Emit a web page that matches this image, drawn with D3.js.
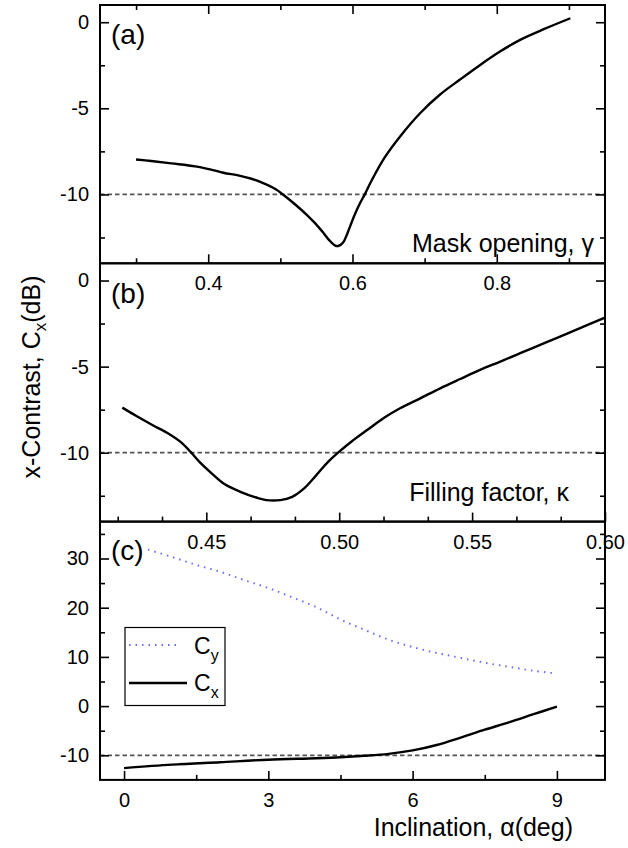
<!DOCTYPE html>
<html>
<head>
<meta charset="utf-8">
<script src="https://cdn.jsdelivr.net/npm/d3@7"></script>
<style>
  html, body { margin: 0; padding: 0; background: #fff; }
  svg text { font-family: "Liberation Sans", Arial, Helvetica, sans-serif; fill: #000; }
</style>
</head>
<body>
<svg id="chart" width="628" height="848"></svg>
<script>
// ---------- DATA ----------
// Panel (a): mask opening gamma vs x-contrast Cx (dB)
const gammaA = [0.300, 0.321, 0.349, 0.382, 0.405, 0.421, 0.443, 0.460, 0.477, 0.493, 0.504, 0.521, 0.538, 0.549, 0.560, 0.568, 0.576, 0.581, 0.587, 0.593, 0.602, 0.610, 0.617, 0.627, 0.644, 0.666, 0.694, 0.721, 0.749, 0.777, 0.805, 0.833, 0.866, 0.902];
const cxA    = [-7.97, -8.06, -8.20, -8.37, -8.57, -8.74, -8.91, -9.09, -9.36, -9.69, -10.02, -10.60, -11.24, -11.71, -12.25, -12.67, -12.97, -12.98, -12.79, -12.25, -11.28, -10.54, -10.0, -9.15, -7.89, -6.63, -5.27, -4.21, -3.33, -2.48, -1.69, -1.01, -0.39, 0.23];

// Panel (b): filling factor kappa vs Cx (dB)
const kappaB = [0.4184, 0.4237, 0.4297, 0.4357, 0.4402, 0.4440, 0.4477, 0.4523, 0.4568, 0.4628, 0.4688, 0.4726, 0.4778, 0.4823, 0.4868, 0.4914, 0.4959, 0.5000, 0.5049, 0.5109, 0.5169, 0.5229, 0.5305, 0.5380, 0.5455, 0.5530, 0.5606, 0.5681, 0.5756, 0.5831, 0.5906, 0.6000];
const cxB    = [-7.38, -7.87, -8.39, -8.88, -9.36, -9.94, -10.58, -11.24, -11.82, -12.27, -12.60, -12.75, -12.75, -12.56, -12.07, -11.30, -10.52, -9.94, -9.32, -8.64, -7.97, -7.42, -6.84, -6.26, -5.72, -5.19, -4.71, -4.22, -3.74, -3.26, -2.77, -2.15];

// Panel (c): inclination alpha (deg) vs Cx and Cy (dB)
const alphaCx = [0, 1, 2, 3, 4, 4.5, 5, 5.5, 6, 6.5, 7, 7.5, 8, 8.5, 9];
const cxC     = [-12.6, -11.9, -11.4, -10.9, -10.6, -10.4, -10.1, -9.7, -9.0, -7.9, -6.4, -4.8, -3.3, -1.7, -0.1];
const alphaCy = [0.5, 1, 1.5, 2, 2.5, 3, 3.5, 4, 4.5, 5, 5.5, 6, 6.5, 7, 7.5, 8, 8.5, 9];
const cyC     = [31.8, 30.3, 28.7, 27.3, 25.6, 24.0, 22.1, 20.1, 17.6, 15.5, 13.5, 12.0, 10.8, 9.8, 8.8, 8.0, 7.2, 6.6];

// Reference level (dB)
const refLevel = -10;

// Ticks
const ticksXA = [0.4, 0.6, 0.8];
const minorXA = [0.3, 0.5, 0.7, 0.9];
const ticksYAB = [-10, -5, 0];
const minorYAB = [-12.5, -7.5, -2.5];
const ticksXB = [0.45, 0.50, 0.55, 0.60];
const ticksXC = [0, 3, 6, 9];
const minorXC = [1.5, 4.5, 7.5];
const ticksYC = [-10, 0, 10, 20, 30];
const minorYC = [-5, 5, 15, 25, 35];

// Labels
const panelLabels = ["(a)", "(b)", "(c)"];
const xTitles = ["Mask opening, γ", "Filling factor, κ", "Inclination, α(deg)"];
const legendNames = ["y", "x"]; // subscripts of C

// ---------- LAYOUT ----------
const svg = d3.select("#chart");
const L = 100, R = 605;
const panelH = 258.3;
const tops = [5, 5 + panelH, 5 + 2 * panelH];
const MAJ = 9, MIN = 5;
const tickFont = "20px", titleFont = "25px";
const cyColor = "#6a6aff";

const xA = d3.scaleLinear().domain([0.25, 0.95]).range([L, R]);
const xB = d3.scaleLinear().domain([0.41, 0.60]).range([L, R]);
const xC = d3.scaleLinear().domain([-0.5, 10]).range([L, R]);
const yA = d3.scaleLinear().domain([-14, 1]).range([tops[0] + panelH, tops[0]]);
const yB = d3.scaleLinear().domain([-14, 1]).range([tops[1] + panelH, tops[1]]);
const yC = d3.scaleLinear().domain([-15, 37.5]).range([tops[2] + panelH, tops[2]]);

const minorXB = d3.range(0.41 + 0.05 / 3 * 0.4, 0.6, 0.05 / 3).filter(v => {
  const r = Math.round(v / 0.05) * 0.05; return Math.abs(v - r) > 0.004;
});

function styleAxis(g) {
  g.select(".domain").remove();
  g.selectAll(".tick line").attr("stroke", "#000").attr("stroke-width", 1.6);
  g.selectAll(".tick text").attr("font-size", tickFont).attr("fill", "#000")
    .attr("font-family", '"Liberation Sans", Arial, sans-serif');
}

const hy = f => (d => f(d).replace("\u2212", "-"));

function drawPanel(i, x, y, xt, xm, yt, ym, xfmt, topTicks) {
  const top = tops[i], bot = top + panelH;
  const g = svg.append("g");
  // reference dashed line
  g.append("line")
    .attr("x1", L).attr("x2", R).attr("y1", y(refLevel)).attr("y2", y(refLevel))
    .attr("stroke", "#555").attr("stroke-width", 1.8).attr("stroke-dasharray", "4.5,3");
  // bottom axis (ticks inward, labels below)
  g.append("g").attr("transform", `translate(0,${bot})`)
    .call(d3.axisBottom(x).tickValues(xt).tickSize(-MAJ).tickPadding(13).tickFormat(xfmt))
    .call(styleAxis);
  g.append("g").attr("transform", `translate(0,${bot})`)
    .call(d3.axisBottom(x).tickValues(xm).tickSize(-MIN).tickFormat(""))
    .call(styleAxis);
  if (topTicks) {
    g.append("g").attr("transform", `translate(0,${top})`)
      .call(d3.axisTop(x).tickValues(xt).tickSize(-MAJ).tickFormat(""))
      .call(styleAxis);
    g.append("g").attr("transform", `translate(0,${top})`)
      .call(d3.axisTop(x).tickValues(xm).tickSize(-MIN).tickFormat(""))
      .call(styleAxis);
  }
  // left axis
  g.append("g").attr("transform", `translate(${L},0)`)
    .call(d3.axisLeft(y).tickValues(yt).tickSize(-MAJ).tickPadding(11).tickFormat(hy(d3.format("d"))))
    .call(styleAxis);
  g.append("g").attr("transform", `translate(${L},0)`)
    .call(d3.axisLeft(y).tickValues(ym).tickSize(-MIN).tickFormat(""))
    .call(styleAxis);
  // right axis
  g.append("g").attr("transform", `translate(${R},0)`)
    .call(d3.axisRight(y).tickValues(yt).tickSize(-MAJ).tickFormat(""))
    .call(styleAxis);
  g.append("g").attr("transform", `translate(${R},0)`)
    .call(d3.axisRight(y).tickValues(ym).tickSize(-MIN).tickFormat(""))
    .call(styleAxis);
  return g;
}

const fmtA = d3.format(".1f"), fmtB = d3.format(".2f"), fmtC = d3.format("d");

const gA = drawPanel(0, xA, yA, ticksXA, minorXA, ticksYAB, minorYAB, fmtA, true);
const gB = drawPanel(1, xB, yB, ticksXB, minorXB, ticksYAB, minorYAB, fmtB, false);
const gC = drawPanel(2, xC, yC, ticksXC, minorXC, ticksYC, minorYC, fmtC, false);

// curves
const smooth = d3.curveCatmullRom.alpha(0.5);
const lineA = d3.line().x((d, i) => xA(gammaA[i])).y(d => yA(d)).curve(smooth);
const lineB = d3.line().x((d, i) => xB(kappaB[i])).y(d => yB(d)).curve(smooth);
const lineCx = d3.line().x((d, i) => xC(alphaCx[i])).y(d => yC(d)).curve(smooth);
const lineCy = d3.line().x((d, i) => xC(alphaCy[i])).y(d => yC(d)).curve(smooth);

gA.append("path").attr("d", lineA(cxA)).attr("fill", "none").attr("stroke", "#000").attr("stroke-width", 2.4);
gB.append("path").attr("d", lineB(cxB)).attr("fill", "none").attr("stroke", "#000").attr("stroke-width", 2.4);
gC.append("path").attr("d", lineCx(cxC)).attr("fill", "none").attr("stroke", "#000").attr("stroke-width", 2.4);
gC.append("path").attr("d", lineCy(cyC)).attr("fill", "none").attr("stroke", cyColor)
  .attr("stroke-width", 2).attr("stroke-dasharray", "1.5,5");

// frames
tops.forEach(t => {
  svg.append("rect").attr("x", L).attr("y", t).attr("width", R - L).attr("height", panelH)
    .attr("fill", "none").attr("stroke", "#000").attr("stroke-width", 2);
});

// panel labels
const labelY = [44, 44 + panelH + 1, 44 + 2 * panelH - 1];
panelLabels.forEach((t, i) => {
  svg.append("text").attr("x", 111).attr("y", labelY[i]).attr("font-size", "28px").text(t);
});

// x titles (right aligned inside panels a,b ; below panel c)
const xTitlePos = [[594, 252], [569, 500.5], [573, 836]];
xTitles.forEach((t, i) => {
  svg.append("text").attr("x", xTitlePos[i][0]).attr("y", xTitlePos[i][1])
    .attr("text-anchor", "end").attr("font-size", titleFont).text(t);
});

// y title
const yt = svg.append("text").attr("transform", "translate(40,377) rotate(-90)")
  .attr("text-anchor", "middle").attr("font-size", titleFont);
yt.append("tspan").text("x-Contrast,  C");
yt.append("tspan").attr("font-size", "17px").attr("dy", 6).text("x");
yt.append("tspan").attr("dy", -6).text("(dB)");

// legend
const lg = svg.append("g");
lg.append("rect").attr("x", 125).attr("y", 627.5).attr("width", 100).attr("height", 78)
  .attr("fill", "#fff").attr("stroke", "#000").attr("stroke-width", 1.2);
lg.append("line").attr("x1", 129).attr("x2", 181).attr("y1", 645).attr("y2", 645)
  .attr("stroke", cyColor).attr("stroke-width", 2).attr("stroke-dasharray", "1.5,5");
lg.append("line").attr("x1", 129).attr("x2", 187).attr("y1", 683).attr("y2", 683)
  .attr("stroke", "#000").attr("stroke-width", 2.4);
const legY = [653.5, 690.5];
legendNames.forEach((s, i) => {
  const t = lg.append("text").attr("x", 194).attr("y", legY[i]).attr("font-size", "23px");
  t.append("tspan").text("C");
  t.append("tspan").attr("font-size", "16px").attr("dy", 7).text(s);
});
</script>
</body>
</html>
